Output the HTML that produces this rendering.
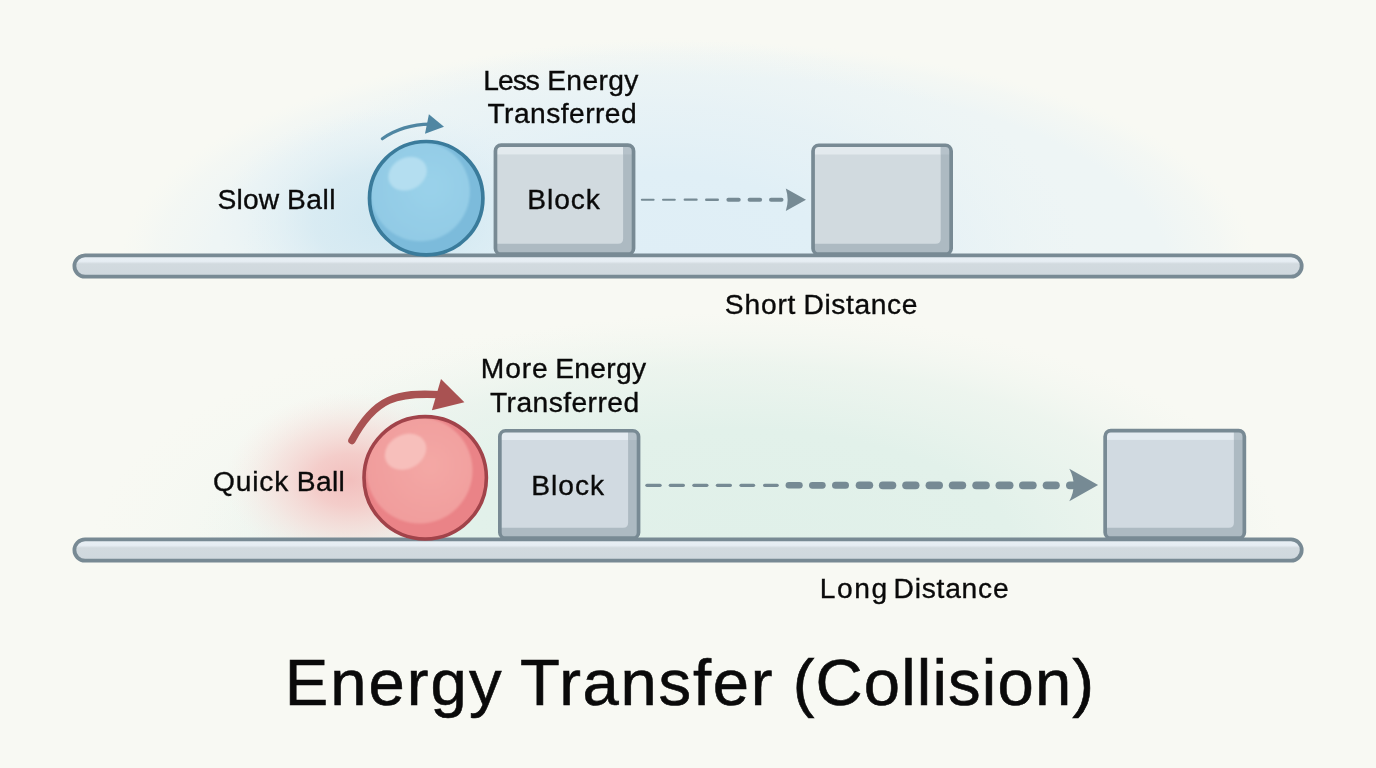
<!DOCTYPE html>
<html>
<head>
<meta charset="utf-8">
<title>Energy Transfer (Collision)</title>
<style>
  html, body { margin: 0; padding: 0; background: #f8f9f3; }
  body { width: 1376px; height: 768px; overflow: hidden; font-family: "Liberation Sans", sans-serif; }
  svg { display: block; }
  text { font-family: "Liberation Sans", sans-serif; fill: #0a0a0a; stroke: #0a0a0a; stroke-width: 0.35px; }
</style>
</head>
<body>
<svg width="1376" height="768" viewBox="0 0 1376 768">
  <defs>
    <radialGradient id="gBlue" cx="0.5" cy="0.5" r="0.5">
      <stop offset="0" stop-color="#edf5f5" stop-opacity="1"/>
      <stop offset="0.84" stop-color="#eef5f5" stop-opacity="1"/>
      <stop offset="0.94" stop-color="#f1f6f4" stop-opacity="0.6"/>
      <stop offset="1" stop-color="#f4f8f4" stop-opacity="0"/>
    </radialGradient>
    <radialGradient id="gBlueIn" cx="0.5" cy="0.5" r="0.5">
      <stop offset="0" stop-color="#dfeef6" stop-opacity="1"/>
      <stop offset="0.4" stop-color="#e0eff6" stop-opacity="1"/>
      <stop offset="0.7" stop-color="#e3f0f6" stop-opacity="0.6"/>
      <stop offset="1" stop-color="#e9f3f5" stop-opacity="0"/>
    </radialGradient>
    <radialGradient id="gBlueBall" cx="0.5" cy="0.5" r="0.5">
      <stop offset="0" stop-color="#cfe7f1" stop-opacity="1"/>
      <stop offset="0.45" stop-color="#d4e9f2" stop-opacity="0.8"/>
      <stop offset="1" stop-color="#e2f0f6" stop-opacity="0"/>
    </radialGradient>
    <radialGradient id="gGreen" cx="0.5" cy="0.5" r="0.5">
      <stop offset="0" stop-color="#e0f0e9" stop-opacity="1"/>
      <stop offset="0.5" stop-color="#e2f1ea" stop-opacity="1"/>
      <stop offset="0.78" stop-color="#e6f2eb" stop-opacity="0.6"/>
      <stop offset="1" stop-color="#eef5ef" stop-opacity="0"/>
    </radialGradient>
    <radialGradient id="gGreenFaint" cx="0.5" cy="0.5" r="0.5">
      <stop offset="0" stop-color="#ecf5ef" stop-opacity="1"/>
      <stop offset="0.6" stop-color="#eef5f0" stop-opacity="0.8"/>
      <stop offset="1" stop-color="#f4f8f2" stop-opacity="0"/>
    </radialGradient>
    <radialGradient id="gPink" cx="0.5" cy="0.5" r="0.5">
      <stop offset="0" stop-color="#f2bfbd" stop-opacity="1"/>
      <stop offset="0.3" stop-color="#f4cbc8" stop-opacity="0.95"/>
      <stop offset="0.6" stop-color="#f6dcd8" stop-opacity="0.7"/>
      <stop offset="1" stop-color="#f8ece8" stop-opacity="0"/>
    </radialGradient>
    <clipPath id="clipTop"><rect x="0" y="0" width="1376" height="266"/></clipPath>
    <clipPath id="clipBot"><rect x="0" y="290" width="1376" height="260"/></clipPath>
    <linearGradient id="gRail" x1="0" y1="0" x2="0" y2="1">
      <stop offset="0" stop-color="#e8eff4"/>
      <stop offset="0.28" stop-color="#e6edf3"/>
      <stop offset="0.40" stop-color="#d2dadf"/>
      <stop offset="1" stop-color="#cfd8de"/>
    </linearGradient>
    <clipPath id="clipBlueBall"><circle cx="426.2" cy="198.2" r="56.7"/></clipPath>
    <clipPath id="clipRedBall"><circle cx="425.2" cy="477.8" r="61.2"/></clipPath>
    <radialGradient id="gBlueInner" cx="0.6" cy="0.45" r="0.7">
      <stop offset="0" stop-color="#9ad2ea"/>
      <stop offset="1" stop-color="#90c9e4"/>
    </radialGradient>
    <radialGradient id="gRedInner" cx="0.6" cy="0.45" r="0.7">
      <stop offset="0" stop-color="#f4a8a5"/>
      <stop offset="1" stop-color="#f09b9b"/>
    </radialGradient>
    <filter id="soft1" x="-20%" y="-20%" width="140%" height="140%"><feGaussianBlur stdDeviation="1"/></filter>
  </defs>

  <rect x="0" y="0" width="1376" height="768" fill="#f8f9f3"/>

  <!-- top blue dome glow -->
  <g clip-path="url(#clipTop)">
    <ellipse cx="688" cy="262" rx="568" ry="222" fill="url(#gBlue)"/>
    <ellipse cx="660" cy="262" rx="420" ry="225" fill="url(#gBlueIn)"/>
    <ellipse cx="392" cy="220" rx="175" ry="112" fill="url(#gBlueBall)"/>
  </g>
  <!-- bottom glows -->
  <g clip-path="url(#clipBot)">
    <ellipse cx="560" cy="548" rx="470" ry="220" fill="url(#gGreenFaint)"/>
    <ellipse cx="740" cy="548" rx="545" ry="236" fill="url(#gGreen)"/>
    <ellipse cx="350" cy="480" rx="125" ry="88" fill="url(#gPink)"/>
  </g>

  <!-- ============ TOP ROW ============ -->
  <g id="block1">
    <rect x="495.45" y="145.15" width="138.10" height="109.00" rx="5.75" fill="#adbac2"/>
    <path d="M 496.30 146.00 H 623.10 V 238.70 Q 623.10 243.70 618.10 243.70 H 496.30 Z" fill="#d1dadf"/>
    <rect x="496.30" y="146.00" width="126.80" height="8.40" fill="#e3eaee"/>
    <rect x="623.10" y="146.00" width="9.60" height="8.40" fill="#b6c2ca"/>
    <rect x="495.45" y="145.15" width="138.10" height="109.00" rx="5.75" fill="none" stroke="#788a94" stroke-width="3.7"/>
  </g>
  <g id="block2">
    <rect x="813.05" y="145.25" width="138.10" height="108.90" rx="5.75" fill="#adbac2"/>
    <path d="M 813.90 146.10 H 940.70 V 238.70 Q 940.70 243.70 935.70 243.70 H 813.90 Z" fill="#d1dadf"/>
    <rect x="813.90" y="146.10" width="126.80" height="8.40" fill="#e3eaee"/>
    <rect x="940.70" y="146.10" width="9.60" height="8.40" fill="#b6c2ca"/>
    <rect x="813.05" y="145.25" width="138.10" height="108.90" rx="5.75" fill="none" stroke="#788a94" stroke-width="3.7"/>
  </g>
  <rect x="74.4" y="255.4" width="1227.3" height="21.3" rx="10.65" ry="10.65" fill="url(#gRail)" stroke="#788a94" stroke-width="3.8"/>
  <g id="blueBall">
    <circle cx="426.2" cy="198.2" r="56.7" fill="#7cbbdb"/>
    <g clip-path="url(#clipBlueBall)">
      <circle cx="420.2" cy="191.5" r="49.7" fill="url(#gBlueInner)" filter="url(#soft1)"/>
      <ellipse cx="407.6" cy="173.8" rx="20" ry="16" transform="rotate(-27 407.6 173.8)" fill="#b4def0" filter="url(#soft1)"/>
    </g>
    <circle cx="426.2" cy="198.2" r="56.7" fill="none" stroke="#3a7b9b" stroke-width="3.7"/>
  </g>
  <path d="M 382.3 138.7 Q 403 124.5 430 124.2" fill="none" stroke="#4f86a2" stroke-width="3.2" stroke-linecap="round"/>
  <path d="M 428.9 114.2 L 444 126.8 L 425 133.8 Z" fill="#4f86a2"/>
  <g stroke="#768a94" stroke-linecap="round" fill="none">
    <line x1="641.80" y1="199.7" x2="653.60" y2="199.7" stroke-width="2.0"/>
    <line x1="663.00" y1="199.7" x2="674.80" y2="199.7" stroke-width="2.0"/>
    <line x1="684.70" y1="199.7" x2="696.60" y2="199.7" stroke-width="2.2"/>
    <line x1="706.30" y1="199.7" x2="717.70" y2="199.7" stroke-width="2.6"/>
    <line x1="728.40" y1="199.7" x2="738.70" y2="199.7" stroke-width="4.0"/>
    <line x1="749.60" y1="199.7" x2="760.10" y2="199.7" stroke-width="4.0"/>
    <line x1="771.00" y1="199.7" x2="781.50" y2="199.7" stroke-width="4.0"/>
  </g>
  <path d="M 785.8 188.4 L 806 199.7 L 785.8 211 Q 789.5 199.7 785.8 188.4 Z" fill="#768a94"/>

  <!-- ============ BOTTOM ROW ============ -->
  <g id="block3">
    <rect x="499.85" y="430.75" width="138.70" height="107.40" rx="5.75" fill="#adbac2"/>
    <path d="M 500.70 431.60 H 628.10 V 522.70 Q 628.10 527.70 623.10 527.70 H 500.70 Z" fill="#d1dae1"/>
    <rect x="500.70" y="431.60" width="127.40" height="8.40" fill="#e4ebf1"/>
    <rect x="628.10" y="431.60" width="9.60" height="8.40" fill="#b6c2ca"/>
    <rect x="499.85" y="430.75" width="138.70" height="107.40" rx="5.75" fill="none" stroke="#788a94" stroke-width="3.7"/>
  </g>
  <g id="block4">
    <rect x="1105.15" y="430.65" width="139.20" height="107.50" rx="5.75" fill="#adbac2"/>
    <path d="M 1106.00 431.50 H 1233.90 V 522.70 Q 1233.90 527.70 1228.90 527.70 H 1106.00 Z" fill="#d1dae1"/>
    <rect x="1106.00" y="431.50" width="127.90" height="8.40" fill="#e4ebf1"/>
    <rect x="1233.90" y="431.50" width="9.60" height="8.40" fill="#b6c2ca"/>
    <rect x="1105.15" y="430.65" width="139.20" height="107.50" rx="5.75" fill="none" stroke="#788a94" stroke-width="3.7"/>
  </g>
  <rect x="74.4" y="539.4" width="1227.3" height="21.3" rx="10.65" ry="10.65" fill="url(#gRail)" stroke="#788a94" stroke-width="3.8"/>
  <g id="redBall">
    <circle cx="425.2" cy="477.8" r="61.2" fill="#ea8387"/>
    <g clip-path="url(#clipRedBall)">
      <circle cx="419.5" cy="470.5" r="53" fill="url(#gRedInner)" filter="url(#soft1)"/>
      <ellipse cx="405.6" cy="451.8" rx="21.6" ry="17" transform="rotate(-27 405.6 451.8)" fill="#f7bfbb" filter="url(#soft1)"/>
    </g>
    <circle cx="425.2" cy="477.8" r="61.2" fill="none" stroke="#a1434a" stroke-width="3.6"/>
  </g>
  <path d="M 351.9 440.6 C 374.8 397.4 397.4 392.2 440 394.6" fill="none" stroke="#a95252" stroke-width="7.4" stroke-linecap="round"/>
  <path d="M 441 379 L 464.4 402.25 L 431.9 410.25 Z" fill="#a95252"/>
  <g stroke="#768a94" stroke-linecap="round" fill="none">
    <line x1="646.90" y1="485.3" x2="660.10" y2="485.3" stroke-width="3.2"/>
    <line x1="670.30" y1="485.3" x2="683.40" y2="485.3" stroke-width="3.2"/>
    <line x1="693.90" y1="485.3" x2="706.90" y2="485.3" stroke-width="3.2"/>
    <line x1="717.40" y1="485.3" x2="730.40" y2="485.3" stroke-width="3.2"/>
    <line x1="741.00" y1="485.3" x2="753.60" y2="485.3" stroke-width="3.2"/>
    <line x1="764.60" y1="485.3" x2="777.20" y2="485.3" stroke-width="3.2"/>
    <line x1="788.90" y1="485.3" x2="799.40" y2="485.3" stroke-width="6.6"/>
    <line x1="812.40" y1="485.3" x2="822.30" y2="485.3" stroke-width="6.8"/>
    <line x1="835.50" y1="485.3" x2="845.50" y2="485.3" stroke-width="7.0"/>
    <line x1="859.50" y1="485.3" x2="869.40" y2="485.3" stroke-width="7.6"/>
    <line x1="882.80" y1="485.3" x2="892.40" y2="485.3" stroke-width="7.8"/>
    <line x1="906.10" y1="485.3" x2="915.60" y2="485.3" stroke-width="7.8"/>
    <line x1="929.50" y1="485.3" x2="939.10" y2="485.3" stroke-width="7.8"/>
    <line x1="952.70" y1="485.3" x2="962.30" y2="485.3" stroke-width="7.8"/>
    <line x1="976.20" y1="485.3" x2="985.90" y2="485.3" stroke-width="7.8"/>
    <line x1="999.40" y1="485.3" x2="1009.60" y2="485.3" stroke-width="7.8"/>
    <line x1="1022.90" y1="485.3" x2="1032.80" y2="485.3" stroke-width="7.8"/>
    <line x1="1046.60" y1="485.3" x2="1055.90" y2="485.3" stroke-width="7.8"/>
    <line x1="1069.90" y1="485.3" x2="1076.10" y2="485.3" stroke-width="7.8"/>
  </g>
  <path d="M 1069.3 468.7 L 1098.1 485 L 1069.3 501.3 Q 1078 485 1069.3 468.7 Z" fill="#768a94"/>

  <!-- ============ TEXT ============ -->
  <g opacity="0.999">
  <text x="483.3" y="89.9" font-size="28.2" letter-spacing="-0.982" style="stroke-width:0.35px">Less</text>
  <text x="547.2" y="89.9" font-size="28.2" letter-spacing="0.377" style="stroke-width:0.35px">Energy</text>
  <text x="487.4" y="122.9" font-size="28.2" letter-spacing="0.464" style="stroke-width:0.35px">Transferred</text>
  <text x="217.6" y="209.3" font-size="28.2" letter-spacing="0.12" style="stroke-width:0.35px">Slow</text>
  <text x="287.0" y="209.3" font-size="28.2" letter-spacing="0.52" style="stroke-width:0.35px">Ball</text>
  <text x="527.2" y="209.3" font-size="28.2" letter-spacing="0.942" style="stroke-width:0.35px">Block</text>
  <text x="724.8" y="314.4" font-size="28.2" letter-spacing="0.815" style="stroke-width:0.35px">Short</text>
  <text x="803.5" y="314.4" font-size="28.2" letter-spacing="0.616" style="stroke-width:0.35px">Distance</text>
  <text x="480.8" y="378.4" font-size="28.2" letter-spacing="0.885" style="stroke-width:0.35px">More</text>
  <text x="555.2" y="378.4" font-size="28.2" letter-spacing="0.317" style="stroke-width:0.35px">Energy</text>
  <text x="490.0" y="411.9" font-size="28.2" letter-spacing="0.444" style="stroke-width:0.35px">Transferred</text>
  <text x="213.0" y="491.3" font-size="28.2" letter-spacing="0.836" style="stroke-width:0.35px">Quick</text>
  <text x="296.8" y="491.3" font-size="28.2" letter-spacing="0.353" style="stroke-width:0.35px">Ball</text>
  <text x="531.2" y="495.4" font-size="28.2" letter-spacing="0.992" style="stroke-width:0.35px">Block</text>
  <text x="819.8" y="598.1" font-size="28.2" letter-spacing="1.557" style="stroke-width:0.35px">Long</text>
  <text x="893.6" y="598.1" font-size="28.2" letter-spacing="0.759" style="stroke-width:0.35px">Distance</text>
  <text x="284.8" y="705.2" font-size="65.2" letter-spacing="2.03" style="stroke-width:0.6px">Energy</text>
  <text x="520.0" y="705.2" font-size="65.2" letter-spacing="1.746" style="stroke-width:0.6px">Transfer</text>
  <text x="792.7" y="705.2" font-size="65.2" letter-spacing="1.153" style="stroke-width:0.6px">(Collision)</text>
  </g>
</svg>
</body>
</html>
